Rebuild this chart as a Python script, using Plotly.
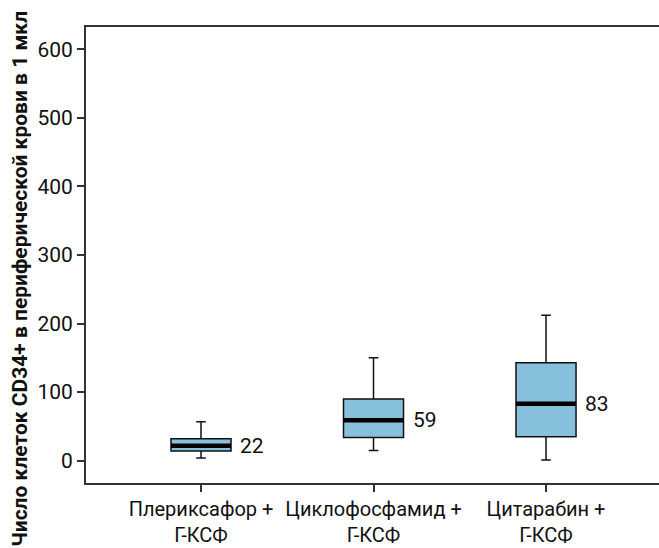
import plotly.graph_objects as go

categories = ["Плериксафор +<br>Г-КСФ", "Циклофосфамид +<br>Г-КСФ", "Цитарабин +<br>Г-КСФ"]
lower_whisker = [4, 15, 1]
q1 = [14, 34, 35]
median = [22, 59, 83]
q3 = [32, 90, 143]
upper_whisker = [57, 150, 212]
median_labels = ["22", "59", "83"]

y_ticks = [0, 100, 200, 300, 400, 500, 600]
y_title = "Число клеток CD34+ в периферической крови в 1 мкл"

FILL = "#86C0DD"
FONT = "Roboto"
BOXW = 0.348

fig = go.Figure()
fig.add_trace(go.Box(
    x=categories,
    q1=q1, median=median, q3=q3,
    lowerfence=lower_whisker, upperfence=upper_whisker,
    fillcolor=FILL,
    line=dict(color="#111111", width=1.5),
    width=BOXW,
    whiskerwidth=0.16,
    boxpoints=False,
    hoverinfo="skip",
    showlegend=False,
))

shapes = []
annotations = []
for i, m in enumerate(median):
    shapes.append(dict(type="line", xref="x", yref="y",
                       x0=i - BOXW / 2, x1=i + BOXW / 2, y0=m, y1=m,
                       line=dict(color="black", width=4.5)))
    annotations.append(dict(x=i + BOXW / 2, y=m, xref="x", yref="y",
                            text=median_labels[i], showarrow=False,
                            xanchor="left", yanchor="middle", xshift=7,
                            font=dict(family=FONT, size=21, color="#111111")))

# y-axis title as a rotated annotation (placed like the reference)
annotations.append(dict(x=-0.115, y=0.448, xref="paper", yref="paper",
                        text="<b>" + y_title + "</b>", textangle=-90,
                        showarrow=False, xanchor="center", yanchor="middle",
                        font=dict(family=FONT, size=21, color="#111111")))

fig.update_layout(
    width=659, height=548,
    margin=dict(l=86, r=0, t=27, b=65),
    paper_bgcolor="white", plot_bgcolor="white",
    font=dict(family=FONT, size=20, color="#111111"),
    shapes=shapes, annotations=annotations,
    xaxis=dict(
        type="category",
        range=[-0.6667, 2.655],
        automargin=False,
        showline=True, linecolor="#333333", linewidth=2, mirror=True,
        ticks="outside", ticklen=7, tickcolor="#333333", tickwidth=1.5,
        showgrid=False, zeroline=False,
        tickfont=dict(family=FONT, size=20, color="#111111"),
    ),
    yaxis=dict(
        range=[-32.5, 632.5],
        tickvals=y_ticks,
        automargin=False,
        showline=True, linecolor="#333333", linewidth=2,
        ticks="outside", ticklen=7, tickcolor="#333333", tickwidth=1.5,
        showgrid=False, zeroline=False,
        tickfont=dict(family=FONT, size=21, color="#111111"),
    ),
)

fig.write_html("out.html", config={"displayModeBar": False},
               post_script="document.body.style.margin='0';document.body.style.overflow='hidden';")
